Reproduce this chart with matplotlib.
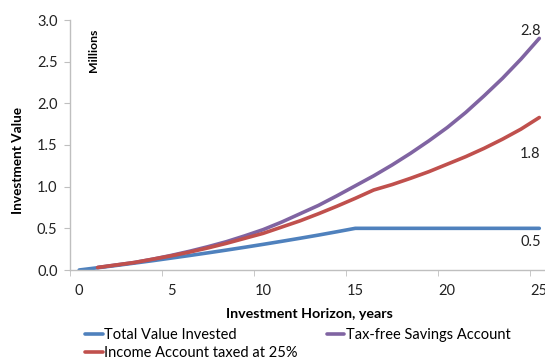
import matplotlib
matplotlib.use("Agg")
import matplotlib.pyplot as plt

# values in millions
years_invested = list(range(0, 26))
total_invested = [0.0, 0.027, 0.054, 0.083, 0.112, 0.143, 0.174, 0.206, 0.239,
                  0.273, 0.308, 0.344, 0.381, 0.419, 0.459, 0.500, 0.500, 0.500,
                  0.500, 0.500, 0.500, 0.500, 0.500, 0.500, 0.500, 0.500]

years = list(range(1, 26))
tax_free = [0.03, 0.06, 0.09, 0.13, 0.175, 0.225, 0.28, 0.34, 0.41, 0.485,
            0.575, 0.675, 0.775, 0.89, 1.01, 1.13, 1.26, 1.40, 1.55, 1.71,
            1.89, 2.09, 2.30, 2.53, 2.78]
income_taxed = [0.03, 0.06, 0.09, 0.13, 0.17, 0.215, 0.265, 0.32, 0.38, 0.44,
                0.515, 0.59, 0.675, 0.765, 0.86, 0.96, 1.025, 1.10, 1.18, 1.27,
                1.36, 1.46, 1.57, 1.69, 1.83]

x_ticks = [0, 5, 10, 15, 20, 25]
y_ticks = [0.0, 0.5, 1.0, 1.5, 2.0, 2.5, 3.0]

BLUE = "#4F81BD"
RED = "#C0504D"
PURPLE = "#8064A2"
AXIS_GRAY = "#bfbfbf"
TEXT = "#222222"

plt.rcParams["font.family"] = ["Lato", "DejaVu Sans"]

fig = plt.figure(figsize=(5.45, 3.6), dpi=100)
ax = fig.add_axes([70 / 545, 90 / 360, 478.5 / 545, 250 / 360])

l_blue, = ax.plot(years_invested, total_invested, color=BLUE, lw=2.6,
                  solid_capstyle="round", label="Total Value Invested")
l_purple, = ax.plot(years, tax_free, color=PURPLE, lw=2.6,
                    solid_capstyle="round", label="Tax-free Savings Account")
l_red, = ax.plot(years, income_taxed, color=RED, lw=2.6,
                 solid_capstyle="round", label="Income Account taxed at 25%")

ax.set_xlim(-0.5, 25.5)
ax.set_ylim(0, 3.0)
ax.set_xticks(x_ticks)
ax.set_xticks([-0.5, 4.5, 9.5, 14.5, 19.5, 24.5], minor=True)
ax.set_yticks(y_ticks)
ax.set_yticklabels([f"{v:.1f}" for v in y_ticks])
ax.tick_params(axis="x", which="major", length=0, pad=10, labelsize=10.5,
               colors=TEXT)
ax.tick_params(axis="x", which="minor", length=4, color=AXIS_GRAY,
               direction="out")
ax.tick_params(axis="y", length=4, color=AXIS_GRAY, pad=5, labelsize=10.5,
               labelcolor=TEXT)

for s in ["top", "right"]:
    ax.spines[s].set_visible(False)
for s in ["left", "bottom"]:
    ax.spines[s].set_color(AXIS_GRAY)
    ax.spines[s].set_linewidth(1.0)

ax.set_xlabel("Investment Horizon, years", fontsize=10.3, fontweight="bold",
              labelpad=7)
fig.text(18 / 545, 1 - 161 / 360, "Investment Value", rotation=90,
         fontsize=9.8, fontweight="bold", ha="center", va="center")
fig.text(93 / 545, 1 - 50 / 360, "Millions", rotation=90, fontsize=8.8,
         fontweight="bold", ha="center", va="center")

# end-of-series data labels
ax.annotate(f"{tax_free[-1]:.1f}", xy=(years[-1], tax_free[-1]),
            xytext=(1, 5), textcoords="offset points", ha="right",
            va="center", fontsize=10.5, color=TEXT)
ax.annotate(f"{income_taxed[-1]:.1f}", xy=(years[-1], income_taxed[-1]),
            xytext=(1, -21), textcoords="offset points", ha="right",
            va="top", fontsize=10.5, color=TEXT)
ax.annotate(f"{total_invested[-1]:.1f}", xy=(years_invested[-1], total_invested[-1]),
            xytext=(1, -5), textcoords="offset points", ha="right",
            va="top", fontsize=10.5, color=TEXT)

fig.legend([l_blue, l_red, l_purple],
           [l_blue.get_label(), l_red.get_label(), l_purple.get_label()],
           loc="upper left", bbox_to_anchor=(85 / 545, 1 - 328 / 360),
           ncol=2, frameon=False, fontsize=10.5, borderpad=0, borderaxespad=0,
           handlelength=1.2, handletextpad=0.1, columnspacing=2.0,
           labelspacing=0.3)

fig.savefig("out.png", dpi=100)
